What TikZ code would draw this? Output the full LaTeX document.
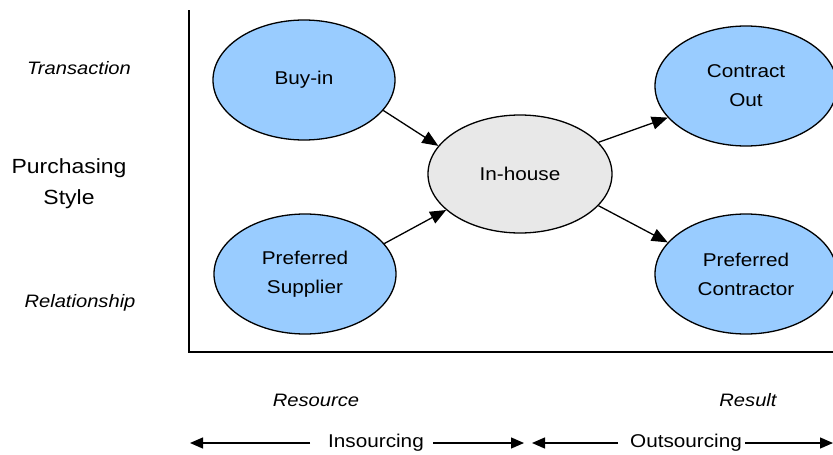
\documentclass[tikz,border=0pt]{standalone}
\usepackage{fontspec}
\setmainfont{Liberation Sans}[FakeStretch=1.12]
\usetikzlibrary{arrows.meta,shapes.geometric}
\definecolor{skyfill}{HTML}{99CCFF}
\definecolor{greyfill}{HTML}{E8E8E8}

\begin{document}
\begin{tikzpicture}
            [x=1pt,y=-1pt,
             oval/.style={ellipse,draw,line width=1.3pt,minimum width=182pt,minimum height=120pt,
                          inner sep=0pt,align=center,font=\fontsize{18.5}{29}\selectfont},
             link/.style={line width=1.3pt,-{Triangle[length=16pt,width=13pt]}},
             side/.style={line width=1.3pt,-{Triangle[length=13pt,width=11pt]}},
             tag/.style={font=\fontsize{18}{22}\selectfont\itshape},
             txt/.style={font=\fontsize{18.5}{28}\selectfont,inner sep=0pt}]
            \useasboundingbox (0,0) rectangle (833,455);

            % axes
            \coordinate (top) at (189,10);
            \coordinate (orig) at (189,352);
            \coordinate (far) at (833,352);
            \draw[line width=1.8pt] (top) -- (orig) -- (far);

            \node[oval,fill=skyfill] (buy) at (304,80) {Buy-in};
            \node[oval,fill=skyfill] (supp) at (305,274) {Preferred\\Supplier};
            \node[oval,fill=greyfill,minimum height=118pt,minimum width=184pt] (inh) at (520,174) {In-house};
            \node[oval,fill=skyfill] (cout) at (746,86) {Contract\\Out};
            \node[oval,fill=skyfill] (pcon) at (746,274) {Preferred\\Contractor};

            \draw[link] (buy.-21) -- (inh.161);
            \draw[link] (supp.21) -- (inh.206);
            \draw[link] (inh.22) -- (cout.202);
            \draw[link] (inh.-22) -- (pcon.158);

            % side labels
            \node[tag] (trans) at (79,68) {Transaction};
            \node[font=\fontsize{20.5}{31}\selectfont,align=center] (style) at (69,184) {Purchasing\\Style};
            \node[tag] (rel) at (80,303) {Relationship};
            \node[tag] (res) at (316,400) {Resource};
            \node[tag] (rsl) at (748,400) {Result};

            % bottom arrows
            \node[txt] (ins) at (376,443) {Insourcing};
            \node[txt] (outs) at (686,443) {Outsourcing};
            \coordinate (insL) at (190,443);
            \coordinate (insA) at (310,443);
            \coordinate (insB) at (433,443);
            \coordinate (insR) at (524,443);
            \coordinate (outL) at (532,443);
            \coordinate (outA) at (618,443);
            \coordinate (outB) at (745,443);
            \coordinate (outR) at (833,443);
            \draw[side] (insA) -- (insL);
            \draw[side] (insB) -- (insR);
            \draw[side] (outA) -- (outL);
            \draw[side] (outB) -- (outR);
          \end{tikzpicture}
\end{document}
